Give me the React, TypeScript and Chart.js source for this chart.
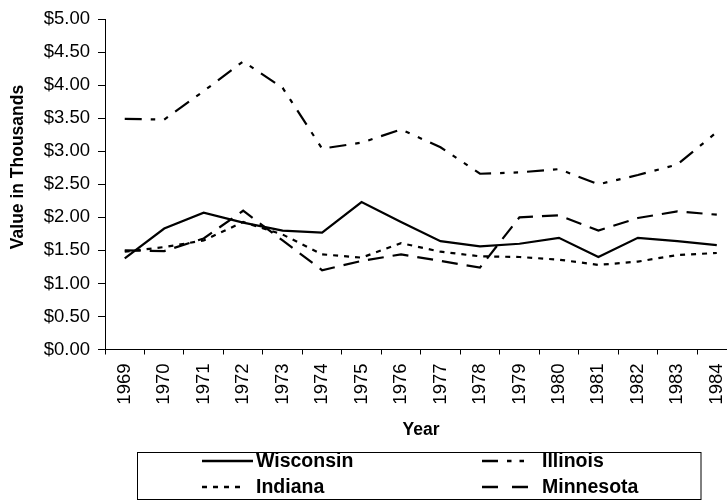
import React, { useEffect, useRef } from "react";
import { Chart, registerables } from "chart.js";

Chart.register(...registerables);

const years = ["1969","1970","1971","1972","1973","1974","1975","1976","1977","1978","1979","1980","1981","1982","1983","1984"];
const wisconsin = [1.38, 1.83, 2.07, 1.92, 1.80, 1.77, 2.23, 1.93, 1.64, 1.56, 1.60, 1.69, 1.40, 1.69, 1.64, 1.58];
const illinois = [3.49, 3.48, 3.91, 4.36, 3.96, 3.04, 3.13, 3.33, 3.06, 2.66, 2.68, 2.73, 2.50, 2.64, 2.80, 3.29];
const indiana = [1.48, 1.55, 1.65, 1.93, 1.74, 1.44, 1.39, 1.61, 1.48, 1.41, 1.40, 1.36, 1.28, 1.33, 1.43, 1.46];
const minnesota = [1.50, 1.49, 1.68, 2.10, 1.65, 1.20, 1.34, 1.44, 1.34, 1.24, 2.00, 2.03, 1.80, 1.99, 2.09, 2.04];

const yTitle = "Value in Thousands";
const xTitle = "Year";

const FONT = "'Liberation Sans', Arial, Helvetica, sans-serif";

const seriesDefs = [
  { label: "Wisconsin", data: wisconsin, dash: [] as number[], legendDash: [] as number[] },
  { label: "Illinois", data: illinois, dash: [17, 9, 4.5, 9, 4.5, 9], legendDash: [16, 9, 4.5, 8, 4.5, 9] },
  { label: "Indiana", data: indiana, dash: [5, 6], legendDash: [5, 6] },
  { label: "Minnesota", data: minnesota, dash: [16, 9], legendDash: [16, 14] },
];

const decorPlugin = {
  id: "decor",
  afterDraw(chart: any) {
    const ctx = chart.ctx as CanvasRenderingContext2D;
    ctx.save();
    ctx.fillStyle = "#000";
    ctx.font = `bold 17.5px ${FONT}`;
    ctx.textAlign = "center";
    ctx.textBaseline = "middle";
    ctx.save();
    ctx.translate(18, 167);
    ctx.rotate(-Math.PI / 2);
    ctx.fillText(yTitle, 0, 0);
    ctx.restore();
    ctx.font = `bold 17.5px ${FONT}`;
    ctx.fillText(xTitle, 421, 430);

    ctx.lineWidth = 1;
    ctx.strokeStyle = "#000";
    ctx.setLineDash([]);
    ctx.strokeRect(137.5, 452.5, 563.5, 47);

    const entries = [
      { s: seriesDefs[0], x0: 202, x1: 253, tx: 256, y: 461 },
      { s: seriesDefs[2], x0: 202, x1: 240, tx: 256, y: 487 },
      { s: seriesDefs[1], x0: 482, x1: 530, tx: 542, y: 461 },
      { s: seriesDefs[3], x0: 482, x1: 530, tx: 542, y: 487 },
    ];
    ctx.font = `bold 19.5px ${FONT}`;
    ctx.textAlign = "left";
    ctx.textBaseline = "middle";
    for (const e of entries) {
      ctx.beginPath();
      ctx.lineWidth = 2.4;
      ctx.lineCap = "butt";
      ctx.setLineDash(e.s.legendDash);
      ctx.moveTo(e.x0, e.y);
      ctx.lineTo(e.x1, e.y);
      ctx.stroke();
      ctx.setLineDash([]);
      ctx.fillText(e.s.label, e.tx, e.y + 1);
    }
    ctx.restore();
  },
};

export default function App() {
  const ref = useRef<HTMLCanvasElement | null>(null);
  useEffect(() => {
    if (!ref.current) return;
    const chart = new Chart(ref.current, {
      type: "line",
      data: {
        labels: years,
        datasets: seriesDefs.map((s) => ({
          label: s.label,
          data: s.data,
          borderColor: "#000",
          backgroundColor: "#000",
          borderWidth: 2.2,
          borderDash: s.dash,
          borderCapStyle: "butt",
          pointRadius: 0,
          tension: 0,
          fill: false,
        })),
      },
      options: {
        animation: false,
        responsive: false,
        maintainAspectRatio: false,
        devicePixelRatio: 1,
        layout: { padding: { top: 15.5, left: 0, right: 0, bottom: 0 } },
        plugins: {
          legend: { display: false },
          tooltip: { enabled: false },
          title: { display: false },
        },
        scales: {
          x: {
            type: "category",
            offset: true,
            grid: {
              offset: true,
              drawOnChartArea: false,
              drawTicks: true,
              tickLength: 5,
              color: "#000",
              lineWidth: 1,
            },
            border: { display: true, color: "#000", width: 1 },
            ticks: {
              color: "#000",
              font: { family: FONT, size: 18.5 },
              maxRotation: 90,
              minRotation: 90,
              padding: 9,
              autoSkip: false,
            },
            afterFit(scale: any) {
              scale.height = 150.5;
            },
          },
          y: {
            min: 0,
            max: 5,
            grid: {
              drawOnChartArea: false,
              drawTicks: true,
              tickLength: 7,
              color: "#000",
              lineWidth: 1,
            },
            border: { display: true, color: "#000", width: 1 },
            ticks: {
              stepSize: 0.5,
              color: "#000",
              font: { family: FONT, size: 18.5 },
              padding: 8,
              callback: (v: any) => "$" + Number(v).toFixed(2),
            },
            afterFit(scale: any) {
              scale.width = 105;
            },
          },
        },
      },
      plugins: [decorPlugin],
    });
    return () => chart.destroy();
  }, []);

  return (
    <div
      style={{
        position: "fixed",
        left: 0,
        top: 0,
        width: 727,
        height: 500,
        overflow: "hidden",
        background: "#fff",
      }}
    >
      <canvas ref={ref} width={748} height={500} style={{ width: 748, height: 500, display: "block" }} />
    </div>
  );
}
